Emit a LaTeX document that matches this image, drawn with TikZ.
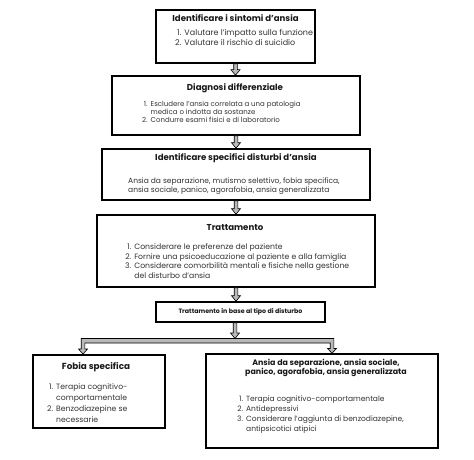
\documentclass[tikz,border=0pt]{standalone}
\usepackage{fontspec}
\setmainfont{Poppins}
\usetikzlibrary{calc}
\tikzset{
  box/.style={draw=black, line width=1.6pt, fill=white, inner sep=0pt},
  ttl/.style={font=\fontsize{#1}{9}\selectfont\bfseries, text=black!90, inner sep=0pt, align=center},
  ttl/.default=8.6,
  body/.style 2 args={font=\fontsize{#1}{#2}\selectfont, text=black!80, inner sep=0pt, anchor=north west, align=left},
  blockarrow/.style={draw=black, line width=0.6pt, fill=gray!55,
    to path={let \p1=(\tikztostart), \p2=(\tikztotarget) in
      (\x1-1.8pt,\y1) -- (\x1-1.8pt,\y2+5.5pt) -- (\x1-4.5pt,\y2+5.5pt) -- (\x1,\y2)
      -- (\x1+4.5pt,\y2+5.5pt) -- (\x1+1.8pt,\y2+5.5pt) -- (\x1+1.8pt,\y1) -- cycle}},
  barshape/.style={draw=black, line width=0.6pt, fill=gray!55}
}
\newcommand{\lst}[1]{\begin{tabular}{@{}r@{\hspace{3pt}}l@{}}#1\end{tabular}}
\begin{document}
\begin{tikzpicture}[x=1pt,y=-1pt]
\useasboundingbox[fill=white] (0,0) rectangle (474,460);
% boxes
\node[box, minimum width=159, minimum height=53] (b1) at (235.5,36.5) {};
\node[box, minimum width=248, minimum height=59] (b2) at (236,105.5) {};
\node[box, minimum width=268, minimum height=51] (b3) at (236,174.5) {};
\node[box, minimum width=278, minimum height=72] (b4) at (236,251) {};
\node[box, minimum width=169, minimum height=20] (b5) at (240.5,312) {};
\node[box, minimum width=132, minimum height=73] (b6) at (99,391.5) {};
\node[box, minimum width=232, minimum height=94] (b7) at (322,401) {};
% texts
\node[ttl] (t1) at (235.5,18) {Identificare i sintomi d’ansia};
\node[body={8}{10}] (l1) at (175,28.5) {\lst{1. & Valutare l’impatto sulla funzione\\ 2. & Valutare il rischio di suicidio}};
\node[ttl] (t2) at (235,88) {Diagnosi differenziale};
\node[body={7}{8}] (l2) at (142,101) {\lst{1. & Escludere l’ansia correlata a una patologia\\ & medica o indotta da sostanze\\ 2. & Condurre esami fisici e di laboratorio}};
\node[ttl] (t3) at (236,158) {Identificare specifici disturbi d’ansia};
\node[body={7.5}{8.5}] (l3) at (128,178) {Ansia da separazione, mutismo selettivo, fobia specifica,\\ ansia sociale, panico, agorafobia, ansia generalizzata};
\node[ttl] (t4) at (235,228) {Trattamento};
\node[body={7.7}{9.5}] (l4) at (125,243) {\lst{1. & Considerare le preferenze del paziente\\ 2. & Fornire una psicoeducazione al paziente e alla famiglia\\ 3. & Considerare comorbilità mentali e fisiche nella gestione\\ & del disturbo d’ansia}};
\node[ttl=6.3] (t5) at (240.5,312) {Trattamento in base al tipo di disturbo};
\node[ttl=8.8] (t6) at (96,367) {Fobia specifica};
\node[body={7.7}{11}] (l6) at (47,382) {\lst{1. & Terapia cognitivo-\\ & comportamentale\\ 2. & Benzodiazepine se\\ & necessarie}};
\node[ttl=7.9] (t7) at (326,367.5) {Ansia da separazione, ansia sociale,\\ panico, agorafobia, ansia generalizzata};
\node[body={7.5}{10}] (l7) at (237,394) {\lst{1. & Terapia cognitivo-comportamentale\\ 2. & Antidepressivi\\ 3. & Considerare l’aggiunta di benzodiazepine,\\ & antipsicotici atipici}};
% connectors
\path[blockarrow] (b1.south) to (b2.north);
\path[blockarrow] (b2.south) to (b3.north);
\path[blockarrow] (b3.south) to (b4.north);
\path[blockarrow] (b4.south) to (b5.north);
\coordinate (sp) at (235,338.5);
\coordinate (jl) at (83,343);
\coordinate (jr) at (332,343);
\path[blockarrow] (b5.south -| sp) to (sp);
\path[barshape] (81.2,338.5) -- (81.2,349) -- (78.5,349) -- (jl |- b6.north) -- (87.5,349) -- (84.8,349)
  -- (84.8,343) -- (330.2,343) -- (330.2,348.5) -- (327.5,348.5) -- (jr |- b7.north)
  -- (336.5,348.5) -- (333.8,348.5) -- (333.8,338.5) -- cycle;
\end{tikzpicture}
\end{document}
